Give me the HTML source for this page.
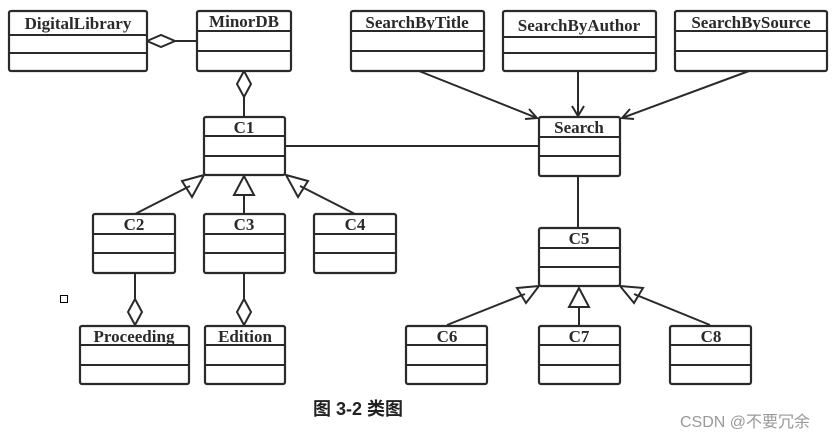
<!DOCTYPE html>
<html><head><meta charset="utf-8"><style>
html,body{margin:0;padding:0;background:#fff;width:834px;height:438px;overflow:hidden}
svg{display:block}
.b{fill:#fff;stroke:#2a2a2a;stroke-width:2.2}
.l{stroke:#2a2a2a;stroke-width:2;fill:none}
.t{font-family:"Liberation Serif",serif;font-weight:bold;font-size:17px;fill:#2a2a2a;text-anchor:middle}
</style></head><body>
<svg width="834" height="438" viewBox="0 0 834 438">
<!-- connectors -->
<line class="l" x1="175" y1="41" x2="197" y2="41"/>
<polygon class="l" fill="#fff" points="147,41 161,35 175,41 161,47"/>
<line class="l" x1="244" y1="97" x2="244" y2="117"/>
<polygon class="l" fill="#fff" points="244,71 251,84 244,97 237,84"/>
<line class="l" x1="285" y1="146" x2="539" y2="146"/>
<line class="l" x1="419" y1="71" x2="537" y2="118"/>
<polyline class="l" points="529,109 537,118 525,119"/>
<line class="l" x1="578" y1="71" x2="578" y2="116"/>
<polyline class="l" points="572,106 578,116 584,106"/>
<line class="l" x1="749" y1="71" x2="622" y2="118"/>
<polyline class="l" points="634,119 622,118 630,109"/>
<line class="l" x1="578" y1="176" x2="578" y2="228"/>
<!-- C1 generalizations -->
<line class="l" x1="135" y1="214" x2="190" y2="186"/>
<polygon class="l" fill="#fff" points="204,175 182,181 192,197"/>
<line class="l" x1="244" y1="195" x2="244" y2="214"/>
<polygon class="l" fill="#fff" points="244,176 234,195 254,195"/>
<line class="l" x1="355" y1="214" x2="300" y2="186"/>
<polygon class="l" fill="#fff" points="286,175 308,181 298,197"/>
<!-- C5 generalizations -->
<line class="l" x1="447" y1="325" x2="525" y2="294"/>
<polygon class="l" fill="#fff" points="539,286 517,288 526,303"/>
<line class="l" x1="579" y1="307" x2="579" y2="325"/>
<polygon class="l" fill="#fff" points="579,288 569,307 589,307"/>
<line class="l" x1="710" y1="325" x2="634" y2="294"/>
<polygon class="l" fill="#fff" points="620,286 643,288 634,303"/>
<!-- aggregations bottom -->
<line class="l" x1="135" y1="273" x2="135" y2="299"/>
<polygon class="l" fill="#fff" points="135,299 142,312 135,325 128,312"/>
<line class="l" x1="244" y1="273" x2="244" y2="299"/>
<polygon class="l" fill="#fff" points="244,299 251,312 244,325 237,312"/>
<!-- boxes -->
<g>
<rect class="b" x="9" y="11" width="138" height="60" rx="2"/><line class="l" x1="9" y1="35" x2="147" y2="35"/><line class="l" x1="9" y1="53" x2="147" y2="53"/><text class="t" x="78" y="29">DigitalLibrary</text>
<rect class="b" x="197" y="11" width="94" height="60" rx="2"/><line class="l" x1="197" y1="31" x2="291" y2="31"/><line class="l" x1="197" y1="51" x2="291" y2="51"/><text class="t" x="244" y="27">MinorDB</text>
<rect class="b" x="351" y="11" width="133" height="60" rx="2"/><line class="l" x1="351" y1="31" x2="484" y2="31"/><line class="l" x1="351" y1="51" x2="484" y2="51"/><text class="t" x="417" y="28">SearchByTitle</text>
<rect class="b" x="503" y="11" width="153" height="60" rx="2"/><line class="l" x1="503" y1="37" x2="656" y2="37"/><line class="l" x1="503" y1="53" x2="656" y2="53"/><text class="t" x="579" y="31">SearchByAuthor</text>
<rect class="b" x="675" y="11" width="152" height="60" rx="2"/><line class="l" x1="675" y1="31" x2="827" y2="31"/><line class="l" x1="675" y1="51" x2="827" y2="51"/><text class="t" x="751" y="28">SearchBySource</text>
<rect class="b" x="539" y="117" width="81" height="59" rx="2"/><line class="l" x1="539" y1="137" x2="620" y2="137"/><line class="l" x1="539" y1="156" x2="620" y2="156"/><text class="t" x="579" y="133">Search</text>
<rect class="b" x="204" y="117" width="81" height="58" rx="2"/><line class="l" x1="204" y1="136" x2="285" y2="136"/><line class="l" x1="204" y1="156" x2="285" y2="156"/><text class="t" x="244" y="133">C1</text>
<rect class="b" x="93" y="214" width="82" height="59" rx="2"/><line class="l" x1="93" y1="234" x2="175" y2="234"/><line class="l" x1="93" y1="253" x2="175" y2="253"/><text class="t" x="134" y="230">C2</text>
<rect class="b" x="204" y="214" width="81" height="59" rx="2"/><line class="l" x1="204" y1="234" x2="285" y2="234"/><line class="l" x1="204" y1="253" x2="285" y2="253"/><text class="t" x="244" y="230">C3</text>
<rect class="b" x="314" y="214" width="82" height="59" rx="2"/><line class="l" x1="314" y1="234" x2="396" y2="234"/><line class="l" x1="314" y1="253" x2="396" y2="253"/><text class="t" x="355" y="230">C4</text>
<rect class="b" x="539" y="228" width="81" height="58" rx="2"/><line class="l" x1="539" y1="248" x2="620" y2="248"/><line class="l" x1="539" y1="267" x2="620" y2="267"/><text class="t" x="579" y="244">C5</text>
<rect class="b" x="80" y="326" width="109" height="58" rx="2"/><line class="l" x1="80" y1="345" x2="189" y2="345"/><line class="l" x1="80" y1="365" x2="189" y2="365"/><text class="t" x="134" y="342">Proceeding</text>
<rect class="b" x="205" y="326" width="80" height="58" rx="2"/><line class="l" x1="205" y1="345" x2="285" y2="345"/><line class="l" x1="205" y1="365" x2="285" y2="365"/><text class="t" x="245" y="342">Edition</text>
<rect class="b" x="406" y="326" width="81" height="58" rx="2"/><line class="l" x1="406" y1="345" x2="487" y2="345"/><line class="l" x1="406" y1="365" x2="487" y2="365"/><text class="t" x="447" y="342">C6</text>
<rect class="b" x="539" y="326" width="81" height="58" rx="2"/><line class="l" x1="539" y1="345" x2="620" y2="345"/><line class="l" x1="539" y1="365" x2="620" y2="365"/><text class="t" x="579" y="342">C7</text>
<rect class="b" x="670" y="326" width="81" height="58" rx="2"/><line class="l" x1="670" y1="345" x2="751" y2="345"/><line class="l" x1="670" y1="365" x2="751" y2="365"/><text class="t" x="711" y="342">C8</text>
</g>
<rect x="60.5" y="295.5" width="7" height="7" fill="none" stroke="#000" stroke-width="1"/>
<text x="313" y="415" style="font-family:'Liberation Sans','Noto Sans CJK SC',sans-serif;font-weight:bold;font-size:18px;fill:#222">图 3-2  类图</text>
<text x="680" y="427" style="font-family:'Liberation Sans','Noto Sans CJK SC',sans-serif;font-size:16px;fill:#999">CSDN @不要冗余</text>
</svg>
</body></html>
